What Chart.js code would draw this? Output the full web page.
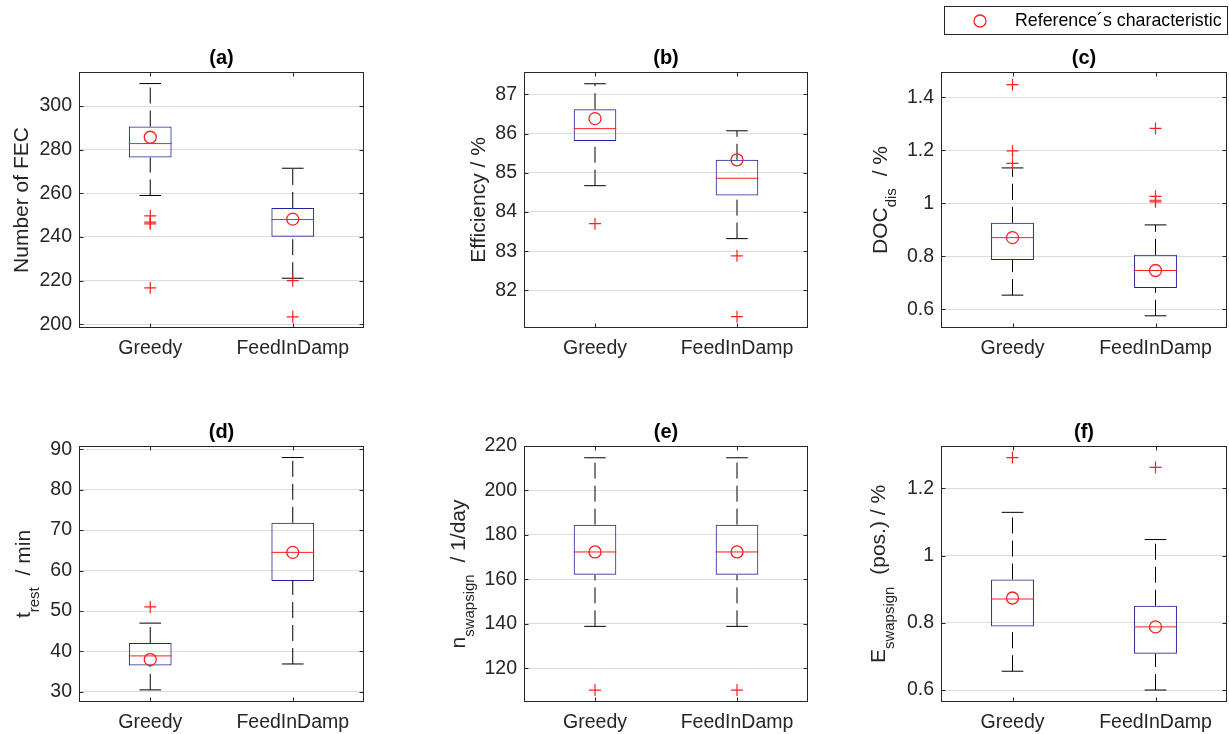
<!DOCTYPE html>
<html><head><meta charset="utf-8">
<script src="https://cdn.jsdelivr.net/npm/chart.js@4/dist/chart.umd.min.js"></script>
<style>
html,body{margin:0;padding:0;background:#fff;width:1229px;height:734px;overflow:hidden;position:relative;}
canvas{position:absolute;}
</style></head><body>
<canvas id="ca"></canvas><canvas id="cb"></canvas><canvas id="cc"></canvas>
<canvas id="cd"></canvas><canvas id="ce"></canvas><canvas id="cf"></canvas>
<script>
// ---------- data ----------
const categories = ['Greedy', 'FeedInDamp'];
const legendLabel = 'Reference\u00B4s characteristic';

// (a) Number of FEC
const fecWhiskerLow  = [259.0, 221.1];
const fecQ1          = [276.4, 240.1];
const fecMedian      = [282.8, 248.0];
const fecQ3          = [290.6, 253.3];
const fecWhiskerHigh = [310.3, 271.5];
const fecReference   = [285.7, 248.2];
const fecOutliers    = [[249.7, 246.8, 246.0, 216.7], [220.0, 203.4]];
const fecTicks       = [200, 220, 240, 260, 280, 300];

// (b) Efficiency / %
const effWhiskerLow  = [84.67, 83.32];
const effQ1          = [85.81, 84.42];
const effMedian      = [86.125, 84.86];
const effQ3          = [86.62, 85.33];
const effWhiskerHigh = [87.27, 86.07];
const effReference   = [86.38, 85.33];
const effOutliers    = [[83.70], [82.88, 81.33]];
const effTicks       = [82, 83, 84, 85, 86, 87];

// (c) DOC_dis / %
const docWhiskerLow  = [0.653, 0.575];
const docQ1          = [0.786, 0.680];
const docMedian      = [0.870, 0.746];
const docQ3          = [0.926, 0.805];
const docWhiskerHigh = [1.133, 0.918];
const docReference   = [0.870, 0.746];
const docOutliers    = [[1.447, 1.197, 1.150], [1.282, 1.026, 1.011, 1.005]];
const docTicks       = [0.6, 0.8, 1, 1.2, 1.4];

// (d) t_rest / min
const restWhiskerLow  = [30.5, 36.9];
const restQ1          = [36.5, 57.45];
const restMedian      = [38.9, 64.5];
const restQ3          = [42.1, 71.8];
const restWhiskerHigh = [47.0, 87.95];
const restReference   = [38.0, 64.5];
const restOutliers    = [[51.0], []];
const restTicks       = [30, 40, 50, 60, 70, 80, 90];

// (e) n_swapsign / 1/day
const nswWhiskerLow  = [138.8, 138.8];
const nswQ1          = [162.0, 162.0];
const nswMedian      = [172.3, 172.3];
const nswQ3          = [184.6, 184.6];
const nswWhiskerHigh = [214.7, 214.7];
const nswReference   = [172.3, 172.3];
const nswOutliers    = [[110.1], [110.1]];
const nswTicks       = [120, 140, 160, 180, 200, 220];

// (f) E_swapsign (pos.) / %
const eswWhiskerLow  = [0.656, 0.600];
const eswQ1          = [0.789, 0.708];
const eswMedian      = [0.871, 0.788];
const eswQ3          = [0.929, 0.851];
const eswWhiskerHigh = [1.129, 1.048];
const eswReference   = [0.874, 0.788];
const eswOutliers    = [[1.292], [1.263]];
const eswTicks       = [0.6, 0.8, 1, 1.2];

// ---------- panels (built from the arrays above) ----------
const panels = [
  {id:'ca', title:'(a)', label:[{t:'Number of FEC'}], wLow:fecWhiskerLow, q1:fecQ1, med:fecMedian, q3:fecQ3, wHigh:fecWhiskerHigh, ref:fecReference, out:fecOutliers, ticks:fecTicks, min:198.3, max:315.6, col:0, row:0, labelX:28},
  {id:'cb', title:'(b)', label:[{t:'Efficiency / %'}], wLow:effWhiskerLow, q1:effQ1, med:effMedian, q3:effQ3, wHigh:effWhiskerHigh, ref:effReference, out:effOutliers, ticks:effTicks, min:81.04, max:87.57, col:1, row:0, labelX:485},
  {id:'cc', title:'(c)', label:[{t:'DOC'},{t:'dis',sub:true},{t:' / %', gap:6}], wLow:docWhiskerLow, q1:docQ1, med:docMedian, q3:docQ3, wHigh:docWhiskerHigh, ref:docReference, out:docOutliers, ticks:docTicks, min:0.529, max:1.495, col:2, row:0, labelX:887, legend:true},
  {id:'cd', title:'(d)', label:[{t:'t'},{t:'rest',sub:true},{t:' / min', gap:6}], wLow:restWhiskerLow, q1:restQ1, med:restMedian, q3:restQ3, wHigh:restWhiskerHigh, ref:restReference, out:restOutliers, ticks:restTicks, min:27.5, max:90.8, col:0, row:1, labelX:30},
  {id:'ce', title:'(e)', label:[{t:'n'},{t:'swapsign',sub:true},{t:' / 1/day', gap:6}], wLow:nswWhiskerLow, q1:nswQ1, med:nswMedian, q3:nswQ3, wHigh:nswWhiskerHigh, ref:nswReference, out:nswOutliers, ticks:nswTicks, min:104.75, max:220, col:1, row:1, labelX:465},
  {id:'cf', title:'(f)', label:[{t:'E'},{t:'swapsign',sub:true},{t:' (pos.) / %', gap:6}], wLow:eswWhiskerLow, q1:eswQ1, med:eswMedian, q3:eswQ3, wHigh:eswWhiskerHigh, ref:eswReference, out:eswOutliers, ticks:eswTicks, min:0.5644, max:1.3265, col:2, row:1, labelX:885}
];

// ---------- layout ----------
const FONT = '"Liberation Sans", Arial, Helvetica, sans-serif';
const AXC = '#262626';
const BLUE = '#22229c';
const RED = '#ff1f1f';
const cols = [{cl:0, pl:79, pr:364}, {cl:430, pl:524, pr:808}, {cl:850, pl:941, pr:1227}];
const rows = [{pt:72, pb:328}, {pt:446, pb:702}];
const TITLE_H = 24, XAX_H = 32, RPAD = 2;

const framePlugin = {
  id: 'frame',
  afterDraw(chart, args, opts) {
    const ctx = chart.ctx, a = chart.chartArea;
    const L = Math.round(a.left) + 0.5, R = Math.round(a.right) - 0.5;
    const T = Math.round(a.top) + 0.5, B = Math.round(a.bottom) - 0.5;
    ctx.save();
    ctx.strokeStyle = AXC; ctx.lineWidth = 1;
    ctx.beginPath();
    const ys = chart.scales.y, xs = chart.scales.x;
    ys.ticks.forEach(t => {
      const y = Math.round(ys.getPixelForValue(t.value)) + 0.5;
      ctx.moveTo(L, y); ctx.lineTo(L + 4, y);
      ctx.moveTo(R, y); ctx.lineTo(R - 4, y);
    });
    categories.forEach((c, i) => {
      const x = Math.round(xs.getPixelForValue(i)) + 0.5;
      ctx.moveTo(x, T); ctx.lineTo(x, T + 4);
      ctx.moveTo(x, B); ctx.lineTo(x, B - 4);
    });
    ctx.stroke();
    ctx.strokeRect(L, T, R - L, B - T);
    // y-axis label with subscripts
    const p = opts.panel;
    const cy = (a.top + a.bottom) / 2;
    const mainF = '21px ' + FONT, subF = '15px ' + FONT;
    let total = 0;
    p.label.forEach(part => { ctx.font = part.sub ? subF : mainF; total += ctx.measureText(part.t).width + (part.gap || 0); });
    ctx.translate(p.labelX - opts.canvasLeft, cy);
    ctx.rotate(-Math.PI / 2);
    ctx.fillStyle = AXC; ctx.textBaseline = 'alphabetic'; ctx.textAlign = 'left';
    let x = -total / 2;
    p.label.forEach(part => {
      x += (part.gap || 0);
      ctx.font = part.sub ? subF : mainF;
      ctx.fillText(part.t, x, part.sub ? 9 : 0);
      x += ctx.measureText(part.t).width;
    });
    ctx.restore();
    // legend
    if (p.legend) {
      const ox = opts.canvasLeft;
      ctx.save();
      ctx.fillStyle = '#fff';
      ctx.fillRect(944.5 - ox, 6.5, 283, 28);
      ctx.strokeStyle = AXC; ctx.lineWidth = 1;
      ctx.strokeRect(944.5 - ox, 6.5, 283, 28);
      ctx.strokeStyle = RED; ctx.lineWidth = 1.3;
      ctx.beginPath(); ctx.arc(980 - ox, 21, 6, 0, Math.PI * 2); ctx.stroke();
      ctx.fillStyle = '#000'; ctx.font = '17.8px ' + FONT; ctx.textBaseline = 'middle';
      ctx.fillText(legendLabel, 1015 - ox, 21);
      ctx.restore();
    }
  }
};

panels.forEach(p => {
  const c = cols[p.col], r = rows[p.row];
  const cv = document.getElementById(p.id);
  const extraTop = p.legend ? r.pt - TITLE_H : 0;
  const top = p.legend ? 0 : r.pt - TITLE_H;
  const w = c.pr - c.cl + RPAD;
  const h = extraTop + TITLE_H + (r.pb - r.pt) + XAX_H;
  cv.width = w; cv.height = h;
  cv.style.left = c.cl + 'px'; cv.style.top = top + 'px';
  cv.style.width = w + 'px'; cv.style.height = h + 'px';
  const Wy = c.pl - c.cl;

  const halfBox = ctx => (ctx.chart.chartArea ? ctx.chart.chartArea.width * 0.075 : 21);
  const halfCap = ctx => (ctx.chart.chartArea ? ctx.chart.chartArea.width * 0.038 : 11);

  const datasets = [];
  datasets.push({
    type: 'bar', label: 'box', order: 6,
    data: categories.map((cat, i) => [p.q1[i], p.q3[i]]),
    backgroundColor: 'rgba(0,0,0,0)', borderColor: BLUE, borderWidth: 1, borderSkipped: false,
    barPercentage: 0.3, categoryPercentage: 1
  });
  categories.forEach((cat, i) => {
    datasets.push({
      type: 'line', label: 'whisker', order: 5,
      data: [{x: cat, y: p.wLow[i]}, {x: cat, y: p.q1[i]}, {x: cat, y: null}, {x: cat, y: p.q3[i]}, {x: cat, y: p.wHigh[i]}],
      borderColor: '#000', borderWidth: 1, borderDash: [16, 7], pointRadius: 0, spanGaps: false, fill: false
    });
  });
  datasets.push({
    type: 'scatter', label: 'caps', order: 4,
    data: categories.flatMap((cat, i) => [{x: cat, y: p.wLow[i]}, {x: cat, y: p.wHigh[i]}]),
    pointStyle: 'line', pointRadius: halfCap, borderColor: '#000', borderWidth: 1
  });
  datasets.push({
    type: 'scatter', label: 'median', order: 3,
    data: categories.map((cat, i) => ({x: cat, y: p.med[i]})),
    pointStyle: 'line', pointRadius: halfBox, borderColor: RED, borderWidth: 1
  });
  datasets.push({
    type: 'scatter', label: 'outliers', order: 2,
    data: categories.flatMap((cat, i) => p.out[i].map(v => ({x: cat, y: v}))),
    pointStyle: 'cross', pointRadius: 6, borderColor: RED, borderWidth: 1.2
  });
  datasets.push({
    type: 'scatter', label: legendLabel, order: 1,
    data: categories.map((cat, i) => ({x: cat, y: p.ref[i]})),
    pointStyle: 'circle', pointRadius: 6, borderColor: RED, backgroundColor: 'rgba(0,0,0,0)', borderWidth: 1.3
  });

  new Chart(cv, {
    type: 'bar',
    data: {labels: categories, datasets},
    options: {
      responsive: false, animation: false, events: [],
      layout: {autoPadding: false, padding: {top: extraTop, right: RPAD, left: 0, bottom: 0}},
      plugins: {
        legend: {display: false}, tooltip: {enabled: false},
        title: {display: true, text: p.title, color: '#000', fullSize: false,
          font: {family: FONT, size: 20, weight: 'bold', lineHeight: 1}, padding: {top: 0, bottom: 4}},
        frame: {panel: p, canvasLeft: c.cl}
      },
      scales: {
        x: {
          type: 'category', offset: true,
          grid: {display: false, drawTicks: false}, border: {display: false},
          ticks: {color: AXC, padding: 9, font: {family: FONT, size: 19.5}, maxRotation: 0},
          afterFit: s => { s.height = XAX_H; s.paddingLeft = 0; s.paddingRight = 0; }
        },
        y: {
          type: 'linear', min: p.min, max: p.max,
          afterBuildTicks: s => { s.ticks = p.ticks.map(v => ({value: v})); },
          afterFit: s => { s.width = Wy; s.paddingTop = 0; s.paddingBottom = 0; },
          grid: {color: '#dddddd', lineWidth: 1, drawTicks: false}, border: {display: false},
          ticks: {color: AXC, padding: 7, font: {family: FONT, size: 19.5},
            callback: v => String(Math.round(v * 1000) / 1000)}
        }
      }
    },
    plugins: [framePlugin]
  });
});
</script>
</body></html>
